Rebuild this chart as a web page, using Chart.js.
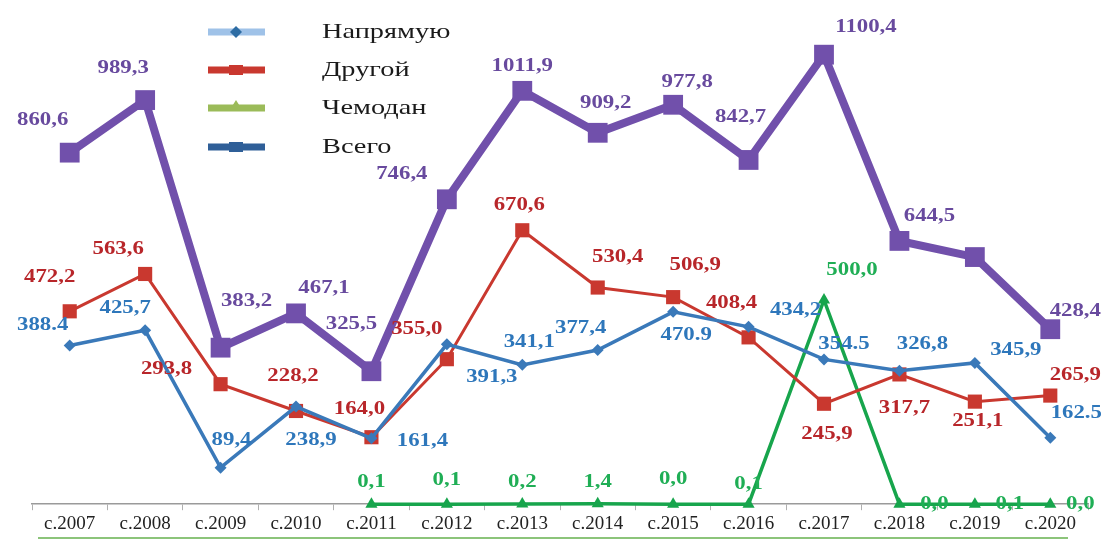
<!DOCTYPE html>
<html>
<head>
<meta charset="utf-8">
<script src="https://cdn.jsdelivr.net/npm/chart.js@4/dist/chart.umd.min.js"></script>
<style>
	html, body { margin: 0; padding: 0; background: #fff; }
	#wrap { width: 1110px; height: 541px; position: relative; }
</style>
</head>
<body>
<div id="wrap"><canvas id="chart"></canvas></div>
<script>
// DATA

const years = ['с.2007', 'с.2008', 'с.2009', 'с.2010', 'с.2011', 'с.2012', 'с.2013',
	'с.2014', 'с.2015', 'с.2016', 'с.2017', 'с.2018', 'с.2019', 'с.2020'];

const direct = [388.4, 425.7, 89.4, 238.9, 161.4, 391.3, 341.1, 377.4, 470.9, 434.2, 354.5, 326.8, 345.9, 162.5];
const other = [472.2, 563.6, 293.8, 228.2, 164.0, 355.0, 670.6, 530.4, 506.9, 408.4, 245.9, 317.7, 251.1, 265.9];
const suitcase = [null, null, null, null, 0.1, 0.1, 0.2, 1.4, 0.0, 0.1, 500.0, 0.0, 0.1, 0.0];
const total = [860.6, 989.3, 383.2, 467.1, 325.5, 746.4, 1011.9, 909.2, 977.8, 842.7, 1100.4, 644.5, 605.0, 428.4];

const seriesNames = ['Напрямую', 'Другой', 'Чемодан', 'Всего'];

//==================================
// LABEL PLACEMENT (offsets from the point, px)
//==================================

const directOffsets = [[-27,-20],[-20,-22],[11,-28],[15,33],[51,3],[45,33],[7,-23],[-17,-22],[13,23],[47,-17],[20,-15],[23,-27],[41,-13],[26,-25]];
const directDotIdx = [0, 8, 10, 13]; // these labels use a point instead of a comma
const otherOffsets = [[-20,-34],[-27,-25],[-54,-15],[-3,-35],[-12,-28],[-30,-30],[-3,-25],[20,-30],[22,-32],[-17,-34],[3,30],[5,34],[3,19],[25,-20]];
const suitcaseOffsets = [null,null,null,null,[0,-22],[0,-24],[0,-22],[0,-22],[0,-25],[0,-20],[28,-30],[35,0],[35,0],[30,0]];
const totalOffsets = [[-27,-33],[-22,-32],[26,-47],[28,-25],[-20,-47],[-45,-25],[0,-25],[8,-30],[14,-23],[-8,-43],[42,-28],[30,-25],null,[25,-18]];

const lineColors = ['#3a79b9', '#c9382f', '#17a54c', '#7150ab'];
const labelColors = ['#2e77bb', '#b8262a', '#1fae55', '#684a9e'];
const legendColors = ['#9fc2e8', '#c9382f', '#9bbb59', '#2f5f98'];

const SERIF = '"Liberation Serif", "DejaVu Serif", serif';

function stretchText(ctx, text, x, y, sx) {
	ctx.save();
	ctx.translate(x, y);
	ctx.scale(sx, 1);
	ctx.fillText(text, 0, 0);
	ctx.restore();
}

function fmt(v, dot) {
	const s = v.toFixed(1);
	return dot ? s : s.replace('.', ',');
}

const labelPlugin = {
	id: 'pointLabels',
	afterDatasetsDraw(chart) {
		const ctx = chart.ctx;
		const offsetsBySet = [directOffsets, otherOffsets, suitcaseOffsets, totalOffsets];
		ctx.save();
		ctx.font = 'bold 19px ' + SERIF;
		ctx.textAlign = 'center';
		ctx.textBaseline = 'middle';
		chart.data.datasets.forEach((ds, di) => {
			const meta = chart.getDatasetMeta(di);
			ctx.fillStyle = labelColors[di];
			ds.data.forEach((v, i) => {
				const off = offsetsBySet[di][i];
				if (v === null || !off) return;
				const pt = meta.data[i];
				const dot = di === 0 && directDotIdx.includes(i);
				stretchText(ctx, fmt(v, dot), pt.x + off[0], pt.y + off[1], 1.2);
			});
		});
		ctx.restore();
	}
};

const legendPlugin = {
	id: 'sideLegend',
	afterDraw(chart) {
		const ctx = chart.ctx;
		const ys = [32, 70, 108, 147];
		ctx.save();
		seriesNames.forEach((name, i) => {
			const y = ys[i];
			// line symbol
			ctx.strokeStyle = legendColors[i];
			ctx.lineWidth = 7;
			ctx.lineCap = 'butt';
			ctx.beginPath();
			ctx.moveTo(208, y);
			ctx.lineTo(265, y);
			ctx.stroke();
			ctx.fillStyle = i === 0 ? '#2e6da4' : legendColors[i];
			ctx.beginPath();
			if (i === 0) {
				ctx.moveTo(236, y - 6); ctx.lineTo(242, y); ctx.lineTo(236, y + 6); ctx.lineTo(230, y);
			} else if (i === 2) {
				ctx.moveTo(236, y - 8); ctx.lineTo(241, y); ctx.lineTo(231, y);
			} else {
				ctx.rect(229, y - 5, 14, 10);
			}
			ctx.closePath();
			ctx.fill();
			// text
			ctx.fillStyle = '#1a1a1a';
			ctx.font = '21px ' + SERIF;
			ctx.textAlign = 'left';
			ctx.textBaseline = 'middle';
			stretchText(ctx, name, 322, y, 1.35);
		});
		// thin green rule along the bottom
		ctx.strokeStyle = '#8cc47a';
		ctx.lineWidth = 2;
		ctx.beginPath();
		ctx.moveTo(38, 538);
		ctx.lineTo(1068, 538);
		ctx.stroke();
		ctx.restore();
	}
};

//==================================
// CHART
//==================================

function makeSet(label, data, i, style, radius, width) {
	return {
		label: label,
		data: data,
		borderColor: lineColors[i],
		backgroundColor: lineColors[i],
		pointBackgroundColor: lineColors[i],
		pointBorderColor: lineColors[i],
		pointStyle: style,
		pointRadius: radius,
		pointBorderWidth: 0,
		borderWidth: width,
		tension: 0,
		spanGaps: false,
		clip: false,
	};
}

const ctx = document.getElementById('chart').getContext('2d');
const chart = new Chart(ctx, {
	type: 'line',
	data: {
		labels: years,
		datasets: [
			makeSet(seriesNames[0], direct, 0, 'rectRot', 6, 3.5),
			makeSet(seriesNames[1], other, 1, 'rect', 10, 3),
			makeSet(seriesNames[2], suitcase, 2, 'triangle', 7, 3.5),
			makeSet(seriesNames[3], total, 3, 'rect', 14, 8),
		],
	},
	options: {
		responsive: true,
		maintainAspectRatio: false,
		animation: false,
		layout: { padding: { left: 32, right: 22, top: 10, bottom: 4 } },
		plugins: {
			legend: { display: false },
			tooltip: { enabled: false },
		},
		scales: {
			x: {
				offset: true,
				border: { display: true, color: '#9a9a9a', width: 1.5 },
				grid: { display: true, drawOnChartArea: false, drawTicks: true, tickLength: 6, offset: true, color: '#b0b0b0' },
				ticks: { color: '#222', font: { family: SERIF, size: 19 }, padding: 2, maxRotation: 0, autoSkip: false },
			},
			y: {
				display: false,
				min: 0,
				max: 1200,
			},
		},
	},
	plugins: [labelPlugin, legendPlugin],
});
</script>
</body>
</html>
